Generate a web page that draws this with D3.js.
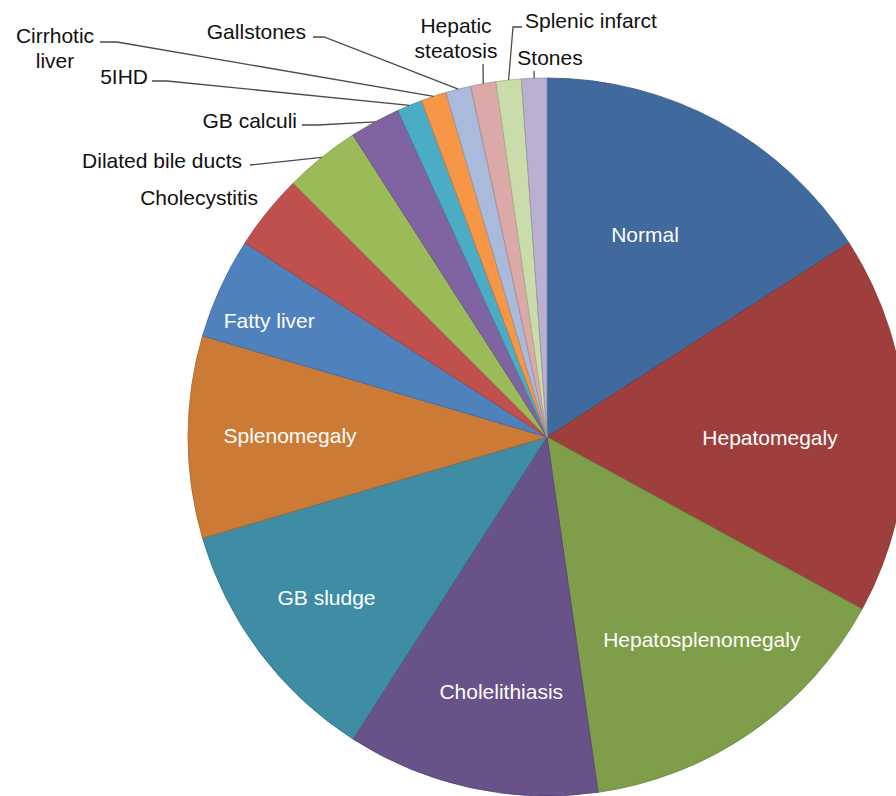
<!DOCTYPE html>
<html>
<head>
<meta charset="utf-8">
<script src="https://cdn.jsdelivr.net/npm/d3@7"></script>
<style>
  html, body { margin: 0; padding: 0; background: #ffffff; }
  svg { display: block; }
  text { font-family: "Liberation Sans", Arial, Helvetica, sans-serif; }
</style>
</head>
<body>
<svg id="chart" width="896" height="796"></svg>
<script>
// ---- Data ----
const categories = [
  "Normal", "Hepatomegaly", "Hepatosplenomegaly", "Cholelithiasis", "GB sludge",
  "Splenomegaly", "Fatty liver", "Cholecystitis", "Dilated bile ducts", "GB calculi",
  "5IHD", "Cirrhotic liver", "Gallstones", "Hepatic steatosis", "Splenic infarct", "Stones"
];
const counts = [14, 15, 13, 10, 10, 8, 4, 3, 3, 2, 1, 1, 1, 1, 1, 1];
const colors = [
  "#40699D", "#9E3F3D", "#7F9E49", "#69518A", "#3E8DA4",
  "#CC7B37", "#4F81BD", "#C0504D", "#9BBB59", "#8064A2",
  "#4BACC6", "#F79646", "#A9BADB", "#DBA9A8", "#C9DCAA", "#BAB0CF"
];

// ---- Layout (presentation only) ----
const cx = 547, cy = 437, R = 359;
const fontSize = 21;

// inside labels: radius from centre and small angular nudge (degrees) from slice mid-angle
const insideLabels = {
  "Normal": { r: 225, da: -2.8 },
  "Hepatomegaly": { r: 223, da: 2.3 },
  "Hepatosplenomegaly": { r: 255, da: -2.6 },
  "Cholelithiasis": { r: 259, da: -2.1 },
  "GB sludge": { r: 273, da: 0.7 },
  "Splenomegaly": { r: 257, da: 0.2 },
  "Fatty liver": { r: 301, da: -1.9 }
};

// outside labels: text anchor point and leader-line bend points
const outsideLabels = {
  "Cholecystitis":      { x: 258, y: 198, anchor: "end",    lines: ["Cholecystitis"], leader: null },
  "Dilated bile ducts": { x: 242, y: 161, anchor: "end",    lines: ["Dilated bile ducts"], leader: [[250, 165]] },
  "GB calculi":         { x: 297, y: 121, anchor: "end",    lines: ["GB calculi"], leader: [[302, 125], [318, 125]] },
  "5IHD":               { x: 148, y: 77,  anchor: "end",    lines: ["5IHD"], leader: [[152, 81], [167, 81]] },
  "Cirrhotic liver":    { x: 55,  y: 36,  anchor: "middle", lines: ["Cirrhotic", "liver"], leader: [[100, 42], [117, 42]] },
  "Gallstones":         { x: 306, y: 32,  anchor: "end",    lines: ["Gallstones"], leader: [[313, 37], [324, 37]] },
  "Hepatic steatosis":  { x: 456, y: 26,  anchor: "middle", lines: ["Hepatic", "steatosis"], leader: [[483, 64]] },
  "Splenic infarct":    { x: 525, y: 21,  anchor: "start",  lines: ["Splenic infarct"], leader: [[522, 27], [513, 27]] },
  "Stones":             { x: 550, y: 58,  anchor: "middle", lines: ["Stones"], leader: [[534, 71]] }
};
const lineHeight = 25;

// ---- Drawing ----
const data = categories.map((c, i) => ({ name: c, value: counts[i], color: colors[i] }));

const svg = d3.select("#chart");
const g = svg.append("g").attr("transform", `translate(${cx},${cy})`);

const pie = d3.pie().sort(null).value(d => d.value).startAngle(0).endAngle(2 * Math.PI);
const arcs = pie(data);
const arc = d3.arc().innerRadius(0).outerRadius(R);

g.selectAll("path.slice")
  .data(arcs)
  .enter().append("path")
  .attr("class", "slice")
  .attr("d", arc)
  .attr("fill", d => d.data.color)
  .attr("stroke", d => d3.color(d.data.color).darker(0.6))
  .attr("stroke-width", 0.8)
  .attr("stroke-linejoin", "round");

function polar(angle, r) {
  return [r * Math.sin(angle), -r * Math.cos(angle)];
}

// inside labels
arcs.forEach(a => {
  const L = insideLabels[a.data.name];
  if (!L) return;
  const mid = (a.startAngle + a.endAngle) / 2 + L.da * Math.PI / 180;
  const [x, y] = polar(mid, L.r);
  g.append("text")
    .attr("x", x).attr("y", y)
    .attr("dy", "0.35em")
    .attr("text-anchor", "middle")
    .attr("fill", "#ffffff")
    .attr("font-size", fontSize)
    .text(a.data.name);
});

// outside labels with leader lines
const labelLayer = svg.append("g");
arcs.forEach(a => {
  const L = outsideLabels[a.data.name];
  if (!L) return;
  const mid = (a.startAngle + a.endAngle) / 2;
  const [px, py] = polar(mid, R);
  if (L.leader) {
    const pts = L.leader.concat([[px + cx, py + cy]]);
    labelLayer.append("path")
      .attr("d", d3.line()(pts))
      .attr("fill", "none")
      .attr("stroke", "#4a4a4a")
      .attr("stroke-width", 1.3);
  }
  L.lines.forEach((t, k) => {
    labelLayer.append("text")
      .attr("x", L.x)
      .attr("y", L.y + k * lineHeight)
      .attr("dy", "0.35em")
      .attr("text-anchor", L.anchor)
      .attr("fill", "#111111")
      .attr("font-size", fontSize)
      .text(t);
  });
});
</script>
</body>
</html>
